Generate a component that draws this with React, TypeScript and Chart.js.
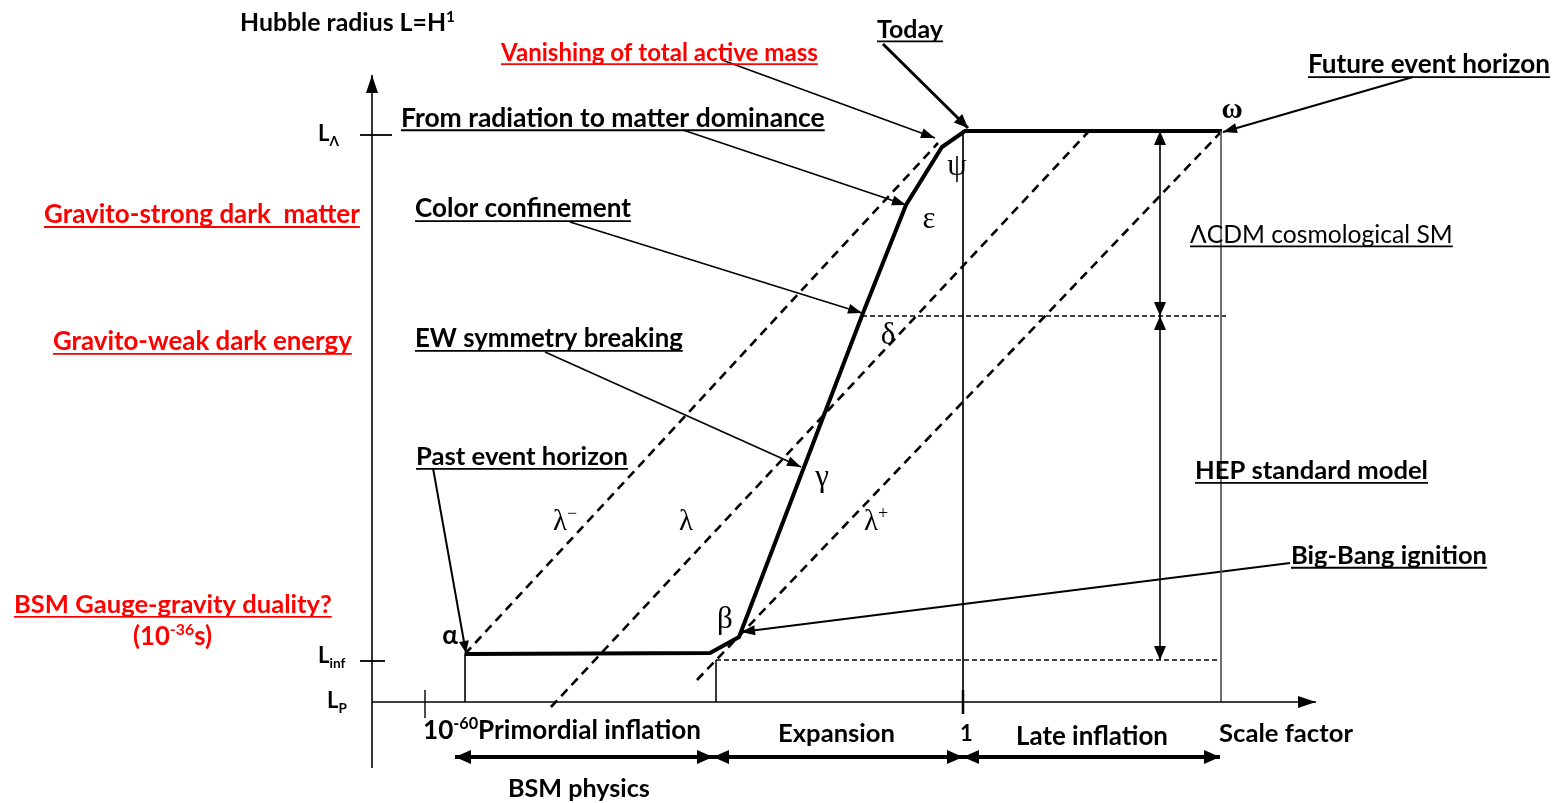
import { useEffect, useRef } from "react";
import { Chart, registerables } from "chart.js";

Chart.register(...registerables);

// ---- Diagram values (x: scale-factor axis units, y: Hubble-radius axis units; origin at the axes crossing) ----
// Hubble radius history: alpha -> plateau -> beta -> gamma/delta -> epsilon -> psi -> today -> omega
const hubbleX = [93, 338, 367, 491, 534, 570, 593, 850];
const hubbleY = [48, 49, 65, 389, 497, 555, 571, 571];

// Event horizons lambda-, lambda, lambda+
const lambdaMinusX = [93, 566];
const lambdaMinusY = [48, 559];
const lambdaX = [179, 718];
const lambdaY = [-5, 572];
const lambdaPlusX = [325, 850];
const lambdaPlusY = [22, 571];

// Reference levels (dotted)
const levelDeltaX = [490, 854];
const levelDeltaY = [386, 386];
const levelInfX = [344, 846];
const levelInfY = [42, 42];

// Thin guides down to the scale-factor axis
const dropAlphaX = [93, 93];
const dropAlphaY = [48, 0];
const dropBetaX = [344, 344];
const dropBetaY = [42, 0];
const dropTodayX = [591, 591];
const dropTodayY = [572, -12];
const dropOmegaX = [849, 849];
const dropOmegaY = [571, 0];

// Axes and ticks
const axisYX = [0, 0];
const axisYY = [-66, 627];
const axisXX = [0, 944];
const axisXY = [0, 0];
const tickLLambdaX = [-12, 20];
const tickLLambdaY = [567, 567];
const tickLInfX = [-12, 13];
const tickLInfY = [41, 41];
const tickSmallX = [53, 53];
const tickSmallY = [12, -16];
const tickOneX = [591, 591];
const tickOneY = [12, -12];

// Pointer arrows (label -> event)
const ptrVanishingX = [350, 563];
const ptrVanishingY = [642, 564];
const ptrTodayX = [511, 596];
const ptrTodayY = [658, 574];
const ptrRadiationX = [311, 534];
const ptrRadiationY = [572, 497];
const ptrColorX = [198, 490];
const ptrColorY = [480, 389];
const ptrEWX = [173, 429];
const ptrEWY = [350, 235];
const ptrPastX = [61, 94];
const ptrPastY = [234, 49];
const ptrBigBangX = [918, 369];
const ptrBigBangY = [139, 70];
const ptrFutureX = [1041, 851];
const ptrFutureY = [625, 570];

// Span arrows
const spanLcdmX = [788, 788];
const spanLcdmY = [571, 386];
const spanHepX = [788, 788];
const spanHepY = [386, 42];
const spanBsmX = [83, 341];
const spanBsmY = [-55, -55];
const spanExpX = [341, 591];
const spanExpY = [-55, -55];
const spanLateX = [591, 848];
const spanLateY = [-55, -55];

// ---- Styling / layout ----
const SANS = "Lato, 'Open Sans', sans-serif";
const SERIF = "'Liberation Serif', 'DejaVu Serif', serif";
const RED = "#ff0000";

type Seg = { t: string; sup?: boolean; sub?: boolean };
type Label = {
  segs: Seg[];
  x: number;
  y: number;
  w?: number;
  size?: number;
  color?: string;
  bold?: boolean;
  underline?: boolean;
  family?: string;
  align?: "left" | "center";
};

const s = (t: string): Seg[] => [{ t }];

const labels: Label[] = [
  { segs: [{ t: "Hubble radius L=H" }, { t: "1", sup: true }], x: -132, y: 680, w: 215, bold: true },
  { segs: s("Vanishing of total active mass"), x: 129, y: 650, w: 317, bold: true, underline: true, color: RED },
  { segs: s("Today"), x: 505, y: 673, w: 66, bold: true, underline: true },
  { segs: s("Future event horizon"), x: 936, y: 638, w: 242, bold: true, underline: true },
  { segs: s("From radiation to matter dominance"), x: 29, y: 585, w: 424, bold: true, underline: true },
  { segs: s("Gravito-strong dark  matter"), x: -328, y: 488, w: 316, bold: true, underline: true, color: RED },
  { segs: s("Color confinement"), x: 43, y: 494, w: 216, bold: true, underline: true },
  { segs: s("ΛCDM cosmological SM"), x: 818, y: 468, w: 263, bold: false, underline: true },
  { segs: s("Gravito-weak dark energy"), x: -319, y: 361, w: 299, bold: true, underline: true, color: RED },
  { segs: s("EW symmetry breaking"), x: 43, y: 364, w: 268, bold: true, underline: true },
  { segs: s("Past event horizon"), x: 44, y: 246, w: 212, bold: true, underline: true },
  { segs: s("HEP standard model"), x: 823, y: 232, w: 233, bold: true, underline: true },
  { segs: s("Big-Bang ignition"), x: 919, y: 147, w: 196, bold: true, underline: true },
  { segs: s("BSM Gauge-gravity duality?"), x: -358, y: 98, w: 318, bold: true, underline: true, color: RED },
  { segs: [{ t: "(10" }, { t: "-36", sup: true }, { t: "s)" }], x: -239, y: 66, w: 79, bold: true, color: RED },
  { segs: [{ t: "10" }, { t: "-60", sup: true }, { t: "Primordial inflation" }], x: 51, y: -28, w: 278, bold: true },
  { segs: s("Expansion"), x: 406, y: -31, w: 117, bold: true },
  { segs: s("1"), x: 588, y: -31, size: 22, bold: true },
  { segs: s("Late inflation"), x: 644, y: -34, w: 152, bold: true },
  { segs: s("Scale factor"), x: 847, y: -31, w: 134, bold: true },
  { segs: s("BSM physics"), x: 136, y: -86, w: 142, bold: true },
  { segs: [{ t: "L" }, { t: "Λ", sub: true }], x: -54, y: 569, size: 22, bold: true },
  { segs: [{ t: "L" }, { t: "inf", sub: true }], x: -54, y: 47, size: 22, bold: true },
  { segs: [{ t: "L" }, { t: "P", sub: true }], x: -45, y: 2, size: 22, bold: true },
  { segs: s("α"), x: 78, y: 67, size: 26, bold: true, align: "center" },
  { segs: s("β"), x: 353, y: 85, size: 31, family: SERIF, align: "center" },
  { segs: s("γ"), x: 450, y: 227, size: 31, family: SERIF, align: "center" },
  { segs: s("δ"), x: 516, y: 369, size: 31, family: SERIF, align: "center" },
  { segs: s("ε"), x: 557, y: 485, size: 31, family: SERIF, align: "center" },
  { segs: s("ψ"), x: 585, y: 538, size: 31, family: SERIF, align: "center" },
  { segs: s("ω"), x: 860, y: 594, size: 29, family: SERIF, bold: true, align: "center" },
  { segs: [{ t: "λ" }, { t: "−", sup: true }], x: 193, y: 182, size: 29, family: SERIF, align: "center" },
  { segs: s("λ"), x: 314, y: 182, size: 29, family: SERIF, align: "center" },
  { segs: [{ t: "λ" }, { t: "+", sup: true }], x: 504, y: 182, size: 29, family: SERIF, align: "center" },
];

type LineStyle = {
  width: number;
  dash?: number[];
  color?: string;
  arrowEnd?: boolean;
  arrowStart?: boolean;
  head?: [number, number];
};

const lines: { xs: number[]; ys: number[]; st: LineStyle }[] = [
  { xs: axisYX, ys: axisYY, st: { width: 1.6, arrowEnd: true, head: [18, 6] } },
  { xs: axisXX, ys: axisXY, st: { width: 1.6, arrowEnd: true, head: [18, 6] } },
  { xs: tickLLambdaX, ys: tickLLambdaY, st: { width: 1.8 } },
  { xs: tickLInfX, ys: tickLInfY, st: { width: 1.8 } },
  { xs: tickSmallX, ys: tickSmallY, st: { width: 1.4 } },
  { xs: tickOneX, ys: tickOneY, st: { width: 2.5 } },
  { xs: dropAlphaX, ys: dropAlphaY, st: { width: 0.8 } },
  { xs: dropBetaX, ys: dropBetaY, st: { width: 0.8 } },
  { xs: dropTodayX, ys: dropTodayY, st: { width: 0.9 } },
  { xs: dropOmegaX, ys: dropOmegaY, st: { width: 0.9, color: "#555" } },
  { xs: levelDeltaX, ys: levelDeltaY, st: { width: 1.5, dash: [5, 3] } },
  { xs: levelInfX, ys: levelInfY, st: { width: 1.5, dash: [5, 3] } },
  { xs: lambdaMinusX, ys: lambdaMinusY, st: { width: 2.6, dash: [9, 6] } },
  { xs: lambdaX, ys: lambdaY, st: { width: 2.6, dash: [9, 6] } },
  { xs: lambdaPlusX, ys: lambdaPlusY, st: { width: 2.6, dash: [9, 6] } },
  { xs: hubbleX, ys: hubbleY, st: { width: 4 } },
  { xs: ptrVanishingX, ys: ptrVanishingY, st: { width: 1.6, arrowEnd: true, head: [14, 5] } },
  { xs: ptrTodayX, ys: ptrTodayY, st: { width: 3, arrowEnd: true, head: [14, 6] } },
  { xs: ptrRadiationX, ys: ptrRadiationY, st: { width: 1.6, arrowEnd: true, head: [14, 5] } },
  { xs: ptrColorX, ys: ptrColorY, st: { width: 1.6, arrowEnd: true, head: [14, 5] } },
  { xs: ptrEWX, ys: ptrEWY, st: { width: 1.6, arrowEnd: true, head: [14, 5] } },
  { xs: ptrPastX, ys: ptrPastY, st: { width: 2, arrowEnd: true, head: [12, 5] } },
  { xs: ptrBigBangX, ys: ptrBigBangY, st: { width: 2, arrowEnd: true, head: [14, 5] } },
  { xs: ptrFutureX, ys: ptrFutureY, st: { width: 2, arrowEnd: true, head: [14, 5] } },
  { xs: spanLcdmX, ys: spanLcdmY, st: { width: 1.6, arrowEnd: true, arrowStart: true, head: [14, 6] } },
  { xs: spanHepX, ys: spanHepY, st: { width: 1.6, arrowEnd: true, arrowStart: true, head: [14, 6] } },
  { xs: spanBsmX, ys: spanBsmY, st: { width: 4, arrowEnd: true, arrowStart: true, head: [16, 7] } },
  { xs: spanExpX, ys: spanExpY, st: { width: 4, arrowEnd: true, arrowStart: true, head: [16, 7] } },
  { xs: spanLateX, ys: spanLateY, st: { width: 4, arrowEnd: true, arrowStart: true, head: [16, 7] } },
];

function drawHead(ctx: CanvasRenderingContext2D, tip: { x: number; y: number }, from: { x: number; y: number }, len: number, half: number, color: string) {
  const dx = tip.x - from.x;
  const dy = tip.y - from.y;
  const d = Math.hypot(dx, dy) || 1;
  const ux = dx / d;
  const uy = dy / d;
  const bx = tip.x - ux * len;
  const by = tip.y - uy * len;
  ctx.beginPath();
  ctx.moveTo(tip.x, tip.y);
  ctx.lineTo(bx - uy * half, by + ux * half);
  ctx.lineTo(bx + uy * half, by - ux * half);
  ctx.closePath();
  ctx.fillStyle = color;
  ctx.fill();
}

const arrowPlugin = {
  id: "arrowHeads",
  afterDatasetsDraw(chart: any) {
    const ctx: CanvasRenderingContext2D = chart.ctx;
    chart.data.datasets.forEach((ds: any, i: number) => {
      const st: LineStyle = ds.lineStyle;
      if (!st || (!st.arrowEnd && !st.arrowStart)) return;
      const pts = chart.getDatasetMeta(i).data;
      if (pts.length < 2) return;
      const [len, half] = st.head || [14, 5];
      const color = st.color || "#000";
      ctx.save();
      if (st.arrowEnd) drawHead(ctx, pts[pts.length - 1], pts[pts.length - 2], len, half, color);
      if (st.arrowStart) drawHead(ctx, pts[0], pts[1], len, half, color);
      ctx.restore();
    });
  },
};

function fontFor(l: Label, size: number) {
  return `${l.bold ? "bold " : ""}${size}px ${l.family || SANS}`;
}

const textPlugin = {
  id: "diagramText",
  afterDraw(chart: any) {
    const ctx: CanvasRenderingContext2D = chart.ctx;
    const sx = chart.scales.x;
    const sy = chart.scales.y;
    ctx.save();
    ctx.textBaseline = "alphabetic";
    ctx.textAlign = "left";
    for (const l of labels) {
      const measure = (size: number) =>
        l.segs.reduce((w, sg) => {
          ctx.font = fontFor(l, sg.sup || sg.sub ? size * 0.62 : size);
          return w + ctx.measureText(sg.t).width;
        }, 0);
      let size = l.size || 20;
      if (l.w) size = (20 * l.w) / measure(20);
      const total = measure(size);
      const px = sx.getPixelForValue(l.x);
      const cy = sy.getPixelForValue(l.y);
      let x = l.align === "center" ? px - total / 2 : px;
      const base = cy + size * 0.36;
      const color = l.color || "#000";
      ctx.fillStyle = color;
      for (const sg of l.segs) {
        const fs = sg.sup || sg.sub ? size * 0.62 : size;
        ctx.font = fontFor(l, fs);
        const off = sg.sup ? -size * 0.38 : sg.sub ? size * 0.22 : 0;
        ctx.fillText(sg.t, x, base + off);
        x += ctx.measureText(sg.t).width;
      }
      if (l.underline) {
        ctx.strokeStyle = color;
        ctx.lineWidth = Math.max(1, size * 0.07);
        ctx.beginPath();
        const uy = base + size * 0.14;
        const x0 = l.align === "center" ? px - total / 2 : px;
        ctx.moveTo(x0, uy);
        ctx.lineTo(x0 + total, uy);
        ctx.stroke();
      }
    }
    ctx.restore();
  },
};

export default function App() {
  const ref = useRef<HTMLCanvasElement | null>(null);
  useEffect(() => {
    if (!ref.current) return;
    const datasets = lines.map((ln) => ({
      data: ln.xs.map((x, i) => ({ x, y: ln.ys[i] })),
      showLine: true,
      borderColor: ln.st.color || "#000",
      backgroundColor: ln.st.color || "#000",
      borderWidth: ln.st.width,
      borderDash: ln.st.dash || [],
      borderCapStyle: "butt",
      borderJoinStyle: "miter",
      pointRadius: 0,
      pointHoverRadius: 0,
      tension: 0,
      clip: false,
      lineStyle: ln.st,
    }));
    const chart = new Chart(ref.current, {
      type: "scatter",
      data: { datasets: datasets as any },
      options: {
        animation: false,
        responsive: true,
        maintainAspectRatio: false,
        events: [],
        layout: { padding: 0 },
        plugins: { legend: { display: false }, tooltip: { enabled: false } },
        scales: {
          x: { type: "linear", min: -372, max: 1186, display: false },
          y: { type: "linear", min: -101, max: 702, display: false },
        },
      },
      plugins: [arrowPlugin, textPlugin],
    });
    return () => chart.destroy();
  }, []);
  return (
    <div style={{ position: "absolute", left: 0, top: 0, width: 1558, height: 803, background: "#fff" }}>
      <canvas ref={ref} />
    </div>
  );
}
